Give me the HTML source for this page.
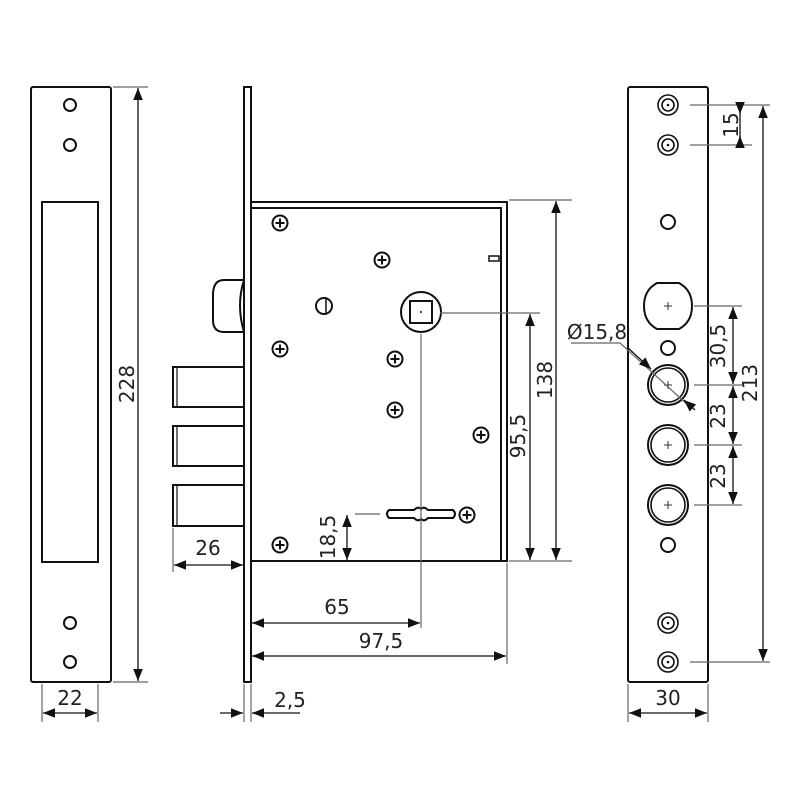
<!DOCTYPE html>
<html><head><style>body{margin:0;background:#fff}svg{display:block}text{font-family:"DejaVu Sans","Liberation Sans",sans-serif;font-size:20px;fill:#222}</style></head><body>
<svg width="800" height="800" viewBox="0 0 800 800" xmlns="http://www.w3.org/2000/svg">
<defs>
<marker id="a" viewBox="0 0 10 10" refX="10" refY="5" markerWidth="12" markerHeight="12" markerUnits="userSpaceOnUse" orient="auto-start-reverse"><path d="M0,1 L10,5 L0,9z" fill="#111"/></marker>
<g id="sc"><circle r="7.5" fill="#fff" stroke="#111" stroke-width="2"/><path d="M-4.5,0H4.5M0,-4.5V4.5" stroke="#111" stroke-width="2"/></g>
<g id="dr"><circle r="10" fill="none" stroke="#111" stroke-width="1.6"/><circle r="6" fill="none" stroke="#111" stroke-width="1.6"/><circle r="1.3" fill="#111"/></g>
<g id="cy"><circle r="20" fill="none" stroke="#111" stroke-width="2"/><circle r="17" fill="none" stroke="#111" stroke-width="1.6"/><path d="M-4,0H4M0,-4V4" stroke="#333" stroke-width="1"/></g>
</defs>
<g fill="none" stroke="#111" stroke-width="2">
<rect x="31" y="87" width="80" height="595" rx="2"/>
<rect x="42" y="202" width="56" height="360"/>
<circle cx="70" cy="105" r="6"/><circle cx="70" cy="145" r="6"/><circle cx="70" cy="623" r="6"/><circle cx="70" cy="662" r="6"/>
<rect x="244" y="87" width="7" height="595"/>
<path d="M251,202H507V561H251M251,208H501V561M244,280H224Q213,280 213,295V320Q213,332 224,332H244M244,280Q236,305 244,332"/>
<rect x="173" y="367" width="71" height="40"/><rect x="173" y="426" width="71" height="40"/><rect x="173" y="485" width="71" height="41"/>
<path d="M177,367V407M177,426V466M177,485V526" stroke-width="1.2"/>
<circle cx="324" cy="306" r="8"/><path d="M326,298V314" stroke-width="1.5"/>
<circle cx="421" cy="312" r="20"/><rect x="410" y="301" width="22" height="22"/>
<rect x="489" y="256" width="10" height="5" stroke-width="1.5"/>
<path d="M389,510H414Q418,506 421,509Q424,506 428,510H453Q457,514 453,518H428Q424,522 421,519Q418,522 414,518H389Q385,514 389,510Z"/>
<rect x="628" y="87" width="80" height="595" rx="2"/>
<circle cx="668" cy="222" r="7"/><circle cx="668" cy="348" r="7"/><circle cx="668" cy="545" r="7"/>
<path d="M657,283H679Q692,290 692,306Q692,322 679,329H657Q644,322 644,306Q644,290 657,283Z"/>
</g>
<circle cx="421" cy="312" r="1" fill="#111"/>
<path d="M664,306H672M668,302V310" stroke="#333"/>
<use href="#sc" x="280" y="223"/><use href="#sc" x="382" y="260"/><use href="#sc" x="280" y="349"/><use href="#sc" x="395" y="359"/><use href="#sc" x="395" y="410"/><use href="#sc" x="481" y="435"/><use href="#sc" x="280" y="545"/><use href="#sc" x="467" y="515"/>
<use href="#dr" x="668" y="105"/><use href="#dr" x="668" y="145"/><use href="#dr" x="668" y="623"/><use href="#dr" x="668" y="662"/>
<use href="#cy" x="668" y="385"/><use href="#cy" x="668" y="445"/><use href="#cy" x="668" y="505"/>
<g stroke="#666" stroke-width="1.2" fill="none">
<path d="M113,87H148M113,682H148M42,684V722M98,684V722"/>
<path d="M509,200H572M509,561H572M440,313H540M421,334V628M380,514H355M173,528V572M244,684V722M251,684V722M507,563V664"/>
<path d="M690,105H770M690,145H752M694,306H742M694,385H742M694,445H742M694,505H742M690,662H770M628,684V722M708,684V722"/>
<path d="M571,343H620L690,407"/>
</g>
<g stroke="#111" stroke-width="1.3" fill="none" marker-start="url(#a)" marker-end="url(#a)">
<path d="M138,88V681"/><path d="M43,713H97"/>
<path d="M556,201V560"/><path d="M530,314V560"/><path d="M347,515V560"/>
<path d="M252,623H420"/><path d="M252,656H506"/><path d="M174,565H243"/>
<path d="M733,307V384"/><path d="M733,386V444"/><path d="M733,446V504"/><path d="M763,106V661"/><path d="M629,713H707"/>
</g>
<g stroke="#111" stroke-width="1.3" fill="none" marker-end="url(#a)">
<path d="M220,713H243"/><path d="M300,713H252"/><path d="M740,106V114"/><path d="M740,144V136"/>
<path d="M627,347L651,369"/><path d="M695,410L684,400"/>
</g>
<path d="M740,112V138" stroke="#111" stroke-width="1.3"/>
<text x="70" y="705" text-anchor="middle">22</text>
<text transform="translate(134,384) rotate(-90)" text-anchor="middle">228</text>
<text x="208" y="555" text-anchor="middle">26</text>
<text x="290" y="707" text-anchor="middle">2,5</text>
<text x="337" y="614" text-anchor="middle">65</text>
<text x="381" y="648" text-anchor="middle">97,5</text>
<text transform="translate(335,537) rotate(-90)" text-anchor="middle">18,5</text>
<text transform="translate(525,436) rotate(-90)" text-anchor="middle">95,5</text>
<text transform="translate(552,380) rotate(-90)" text-anchor="middle">138</text>
<text transform="translate(738,125) rotate(-90)" text-anchor="middle">15</text>
<text transform="translate(725,346) rotate(-90)" text-anchor="middle">30,5</text>
<text transform="translate(725,416) rotate(-90)" text-anchor="middle">23</text>
<text transform="translate(725,476) rotate(-90)" text-anchor="middle">23</text>
<text transform="translate(757,383) rotate(-90)" text-anchor="middle">213</text>
<text x="597" y="339" text-anchor="middle">Ø15,8</text>
<text x="668" y="705" text-anchor="middle">30</text>
</svg>
</body></html>
